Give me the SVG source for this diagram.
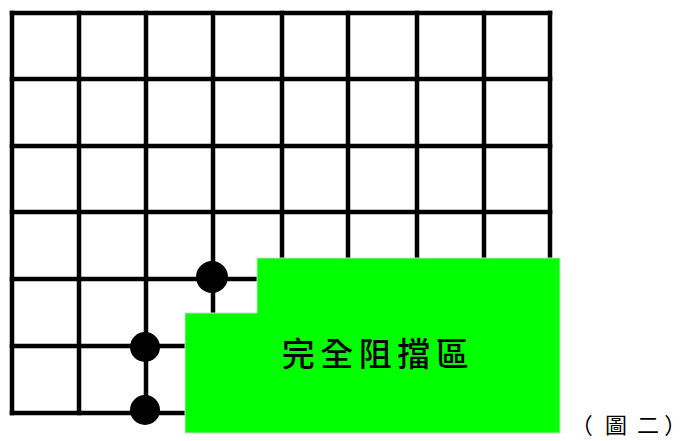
<svg xmlns="http://www.w3.org/2000/svg" width="681" height="441" viewBox="0 0 681 441">
<style>
.g{stroke:#000;stroke-width:4.5;stroke-linecap:square;fill:none}
.dot{fill:#000}
.zone{fill:#00ff00;stroke:#c8d8c8;stroke-width:1}
.lbl{font-family:"Noto Sans CJK TC","Noto Sans CJK SC",sans-serif;font-size:33px;font-weight:500;fill:#000;letter-spacing:5.5px}
.cap{font-family:"Noto Sans CJK TC","Noto Sans CJK SC",serif;font-size:22px;fill:#000;font-feature-settings:"palt"}
</style>
<rect width="681" height="441" fill="#fff"/>
<g id="grid" class="g">
<path d="M12 13V413M79 13V413M146 13V413M213 13V413M282 13V413M348 13V413M417 13V413M484 13V413M550 13V413"/>
<path d="M12 13H550M12 79H550M12 146H550M12 212H550M12 279H550M12 346H550M12 413H550"/>
</g>
<g id="dots">
<circle id="dot1" class="dot" cx="212" cy="277" r="16"/>
<circle id="dot2" class="dot" cx="145" cy="347" r="15"/>
<circle id="dot3" class="dot" cx="145" cy="410" r="15"/>
</g>
<g id="block">
<polygon class="zone" points="257,258 560,258 560,433 185,433 185,313 257,313"/>
<text class="lbl" x="378" y="366" text-anchor="middle">完全阻擋區</text>
</g>
<g id="caption">
<text class="cap" y="433"><tspan x="581">（</tspan><tspan x="605">圖</tspan><tspan x="637">二</tspan><tspan x="665">）</tspan></text>
</g>
</svg>
